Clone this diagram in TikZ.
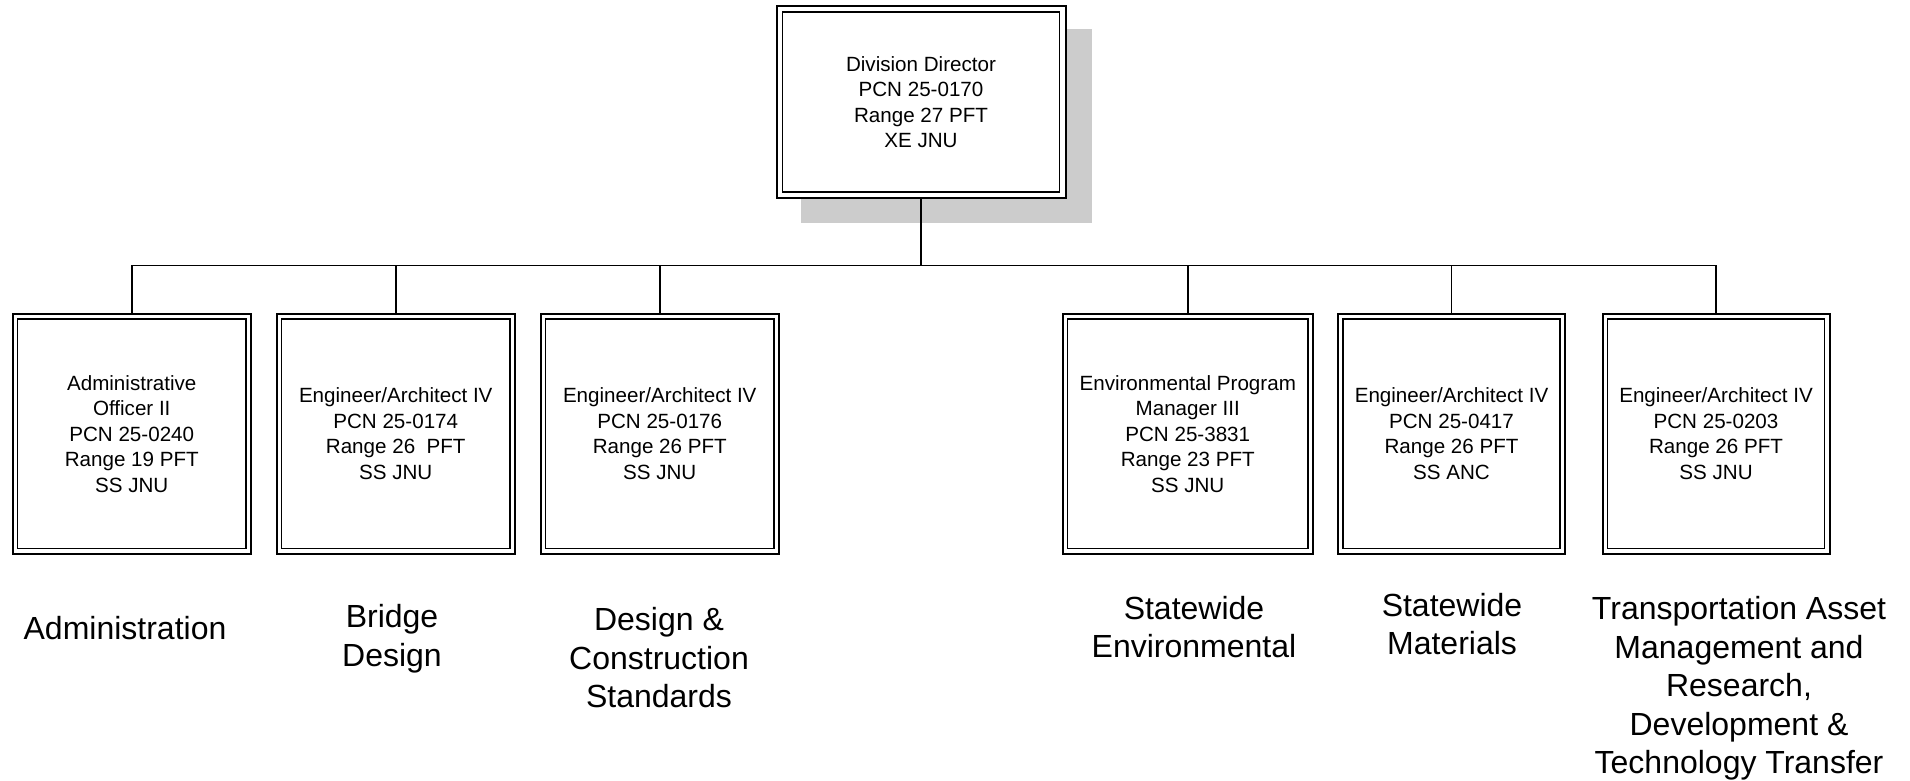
\documentclass[tikz,border=0pt]{standalone}
\usepackage{fontspec}
\setmainfont{Liberation Sans}
\usetikzlibrary{backgrounds}
\begin{document}
\begin{tikzpicture}[x=1pt,y=-1pt,
  posbox/.style={draw, line width=2pt, fill=white, align=center, inner sep=0pt, outer sep=0pt,
    font=\fontsize{20.6}{25.5}\selectfont},
  innerline/.style={line width=1.5pt},
  conn/.style={line width=1.6pt},
  dept/.style={align=center, inner sep=0pt, font=\fontsize{32}{38.5}\selectfont},
  shadowfill/.style={fill=black!20}]
\useasboundingbox (0,0) rectangle (1910,781);

% top box
\node[posbox, minimum width=289pt, minimum height=192pt] (dir) at (921,102)
  {Division Director\\PCN 25-0170\\Range 27 PFT\\XE JNU};
\begin{pgfonlayer}{background}
  \fill[shadowfill] ([shift={(24pt,-23pt)}]dir.north west) rectangle ([shift={(26pt,-25pt)}]dir.south east);
\end{pgfonlayer}

% lower boxes
\node[posbox, minimum width=238.5pt, minimum height=239.5pt] (b1) at (131.75,433.75)
  {Administrative\\Officer II\\PCN 25-0240\\Range 19 PFT\\SS JNU};
\node[posbox, minimum width=238.5pt, minimum height=239.5pt] (b2) at (395.75,433.75)
  {Engineer/Architect IV\\PCN 25-0174\\Range 26\ \ PFT\\SS JNU};
\node[posbox, minimum width=238.5pt, minimum height=239.5pt] (b3) at (659.75,433.75)
  {Engineer/Architect IV\\PCN 25-0176\\Range 26 PFT\\SS JNU};
\node[posbox, minimum width=250.5pt, minimum height=239.5pt] (b4) at (1187.75,433.75)
  {Environmental Program\\Manager III\\PCN 25-3831\\Range 23 PFT\\SS JNU};
\node[posbox, minimum width=227pt, minimum height=239.5pt] (b5) at (1451.5,433.75)
  {Engineer/Architect IV\\PCN 25-0417\\Range 26 PFT\\SS ANC};
\node[posbox, minimum width=227pt, minimum height=239.5pt] (b6) at (1716,433.75)
  {Engineer/Architect IV\\PCN 25-0203\\Range 26 PFT\\SS JNU};

% inner lines of the double borders
\draw[innerline] ([shift={(6pt,-6pt)}]dir.north west) rectangle ([shift={(-6pt,6pt)}]dir.south east);
\foreach \n in {b1,b2,b3,b4,b5,b6}
  \draw[innerline] ([shift={(5pt,-5pt)}]\n.north west) rectangle ([shift={(-5pt,5pt)}]\n.south east);

% connectors
\coordinate (bus) at (0,265.5);
\draw[conn] (dir.south) -- (dir.south |- bus);
\draw[conn] (b1.north) -- (b1.north |- bus) -- (b6.north |- bus) -- (b6.north);
\foreach \n in {b2,b3,b4,b5}
  \draw[conn] (\n.north) -- (\n.north |- bus);

% department labels
\node[dept] (l1) at (125,628) {Administration};
\node[dept] (l2) at (392,638.5) {Bridge\\Design};
\node[dept] (l3) at (659,658) {Design \&\\Construction\\Standards};
\node[dept] (l4) at (1194,627) {Statewide\\Environmental};
\node[dept] (l5) at (1452,624) {Statewide\\Materials};
\node[dept] (l6) at (1739,688.5) {Transportation Asset\\Management and\\Research,\\Development \&\\Technology Transfer};
\end{tikzpicture}
\end{document}
